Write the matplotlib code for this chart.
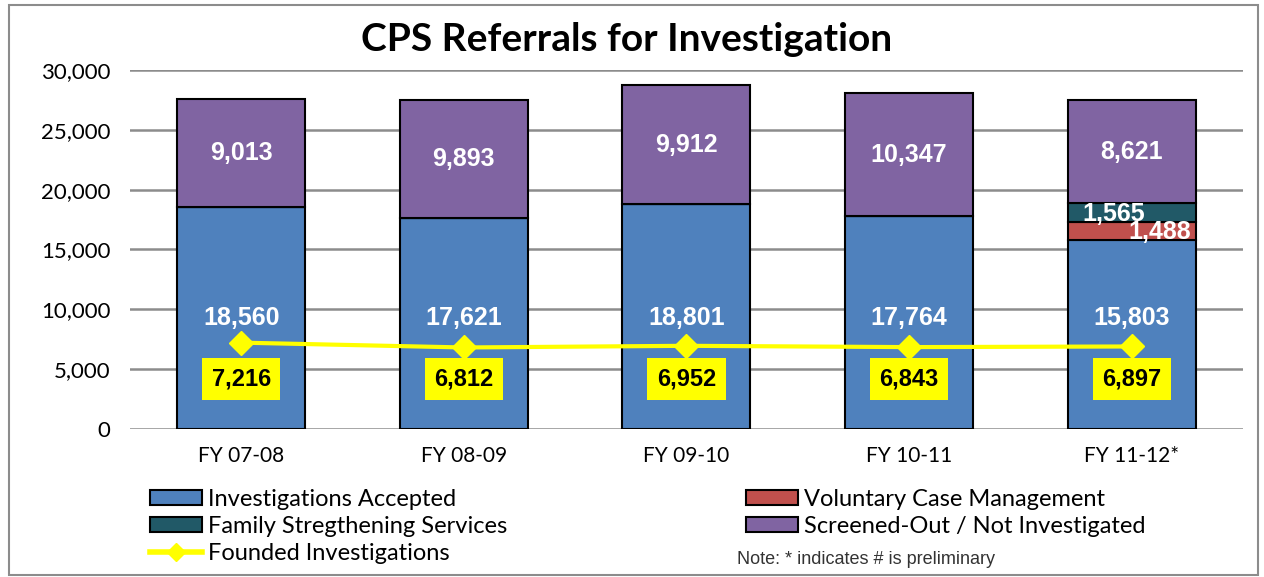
import matplotlib
matplotlib.use('Agg')
import matplotlib.pyplot as plt
from matplotlib.patches import Patch, Rectangle
from matplotlib.lines import Line2D
import numpy as np

""" Data """

years = ['FY 07-08', 'FY 08-09', 'FY 09-10', 'FY 10-11', 'FY 11-12*']
accepted = [18560, 17621, 18801, 17764, 15803]
voluntary = [0, 0, 0, 0, 1488]
family = [0, 0, 0, 0, 1565]
screened = [9013, 9893, 9912, 10347, 8621]
founded = [7216, 6812, 6952, 6843, 6897]

c_blue = '#4F81BD'
c_red = '#C0504D'
c_teal = '#215967'
c_purple = '#8064A2'
c_yellow = '#FFFF00'

""" Plot """

fig = plt.figure(figsize=(12.64, 5.77), dpi=100)
fig.patches.append(Rectangle((0.007, 0.004), 0.988, 0.988, transform=fig.transFigure,
                             fill=False, edgecolor='#8c8c8c', linewidth=1.5))
ax = fig.add_axes([0.1028, 0.2565, 0.8806, 0.6222])

x = np.arange(len(years))
w = 0.575
acc = np.array(accepted)
vol = np.array(voluntary)
fam = np.array(family)
scr = np.array(screened)

ax.bar(x, acc, w, color=c_blue, edgecolor='black', linewidth=1.5, zorder=2)
ax.bar(x, vol, w, bottom=acc, color=c_red, edgecolor='black', linewidth=1.5, zorder=2)
ax.bar(x, fam, w, bottom=acc + vol, color=c_teal, edgecolor='black', linewidth=1.5, zorder=2)
ax.bar(x, scr, w, bottom=acc + vol + fam, color=c_purple, edgecolor='black', linewidth=1.5, zorder=2)
ax.plot(x, founded, '-D', color=c_yellow, linewidth=3, markersize=12, zorder=3)

lab_font = dict(family='Liberation Sans', fontweight='bold', fontsize=18, color='white')
for i in range(len(years)):
    ax.text(x[i], 9300, '{:,}'.format(accepted[i]), ha='center', va='center', zorder=4, **lab_font)
    top = acc[i] + vol[i] + fam[i]
    ax.text(x[i], top + scr[i] / 2, '{:,}'.format(screened[i]), ha='center', va='center', zorder=4, **lab_font)
    ax.text(x[i], 4150, '{:,}'.format(founded[i]), ha='center', va='center', zorder=4,
            family='Liberation Sans', fontweight='bold', fontsize=17, color='black',
            bbox=dict(boxstyle='square,pad=0.4', facecolor=c_yellow, edgecolor='none'))
    if vol[i] > 0:
        ax.text(x[i] + w / 2 - 0.02, acc[i] + vol[i] / 2 - 100, '{:,}'.format(voluntary[i]),
                ha='right', va='center', zorder=4, **lab_font)
    if fam[i] > 0:
        ax.text(x[i] - 0.08, acc[i] + vol[i] + fam[i] / 2 - 100, '{:,}'.format(family[i]),
                ha='center', va='center', zorder=4, **lab_font)

ax.set_xlim(-0.5, len(years) - 0.5)
ax.set_ylim(0, 30000)
ax.set_yticks(np.arange(0, 30001, 5000))
ax.set_yticklabels(['{:,}'.format(v) for v in range(0, 30001, 5000)])
ax.set_xticks(x)
ax.set_xticklabels(years)
for lbl in ax.get_xticklabels():
    lbl.set_family('Lato')
    lbl.set_fontsize(15)
for lbl in ax.get_yticklabels():
    lbl.set_family('Lato')
    lbl.set_fontsize(16)
ax.tick_params(length=0, pad=14)
ax.tick_params(axis='x', pad=12)
ax.yaxis.grid(True, color='#8c8c8c', linewidth=1.8)
ax.set_axisbelow(True)
for s in ax.spines.values():
    s.set_visible(False)

fig.text(0.496, 0.932, 'CPS Referrals for Investigation', ha='center', va='center',
         family='Lato', fontweight='bold', fontsize=28)

""" Legend """

h1 = [Patch(facecolor=c_blue, edgecolor='black', linewidth=1.5),
      Patch(facecolor=c_teal, edgecolor='black', linewidth=1.5),
      Line2D([], [], color=c_yellow, linewidth=4, marker='D', markersize=9)]
n1 = ['Investigations Accepted', 'Family Stregthening Services', 'Founded Investigations']
h2 = [Patch(facecolor=c_red, edgecolor='black', linewidth=1.5),
      Patch(facecolor=c_purple, edgecolor='black', linewidth=1.5)]
n2 = ['Voluntary Case Management', 'Screened-Out / Not Investigated']
leg_kw = dict(frameon=False, prop={'family': 'Lato', 'size': 17}, handlelength=2.2,
              handleheight=0.6, handletextpad=0.25, labelspacing=0.25, borderaxespad=0, borderpad=0)
fig.legend(h1, n1, loc='upper left', bbox_to_anchor=(0.119, 0.153), **leg_kw)
fig.legend(h2, n2, loc='upper left', bbox_to_anchor=(0.590, 0.153), **leg_kw)
fig.text(0.583, 0.031, 'Note: * indicates # is preliminary', family='Liberation Sans',
         fontsize=13, color='#333333', va='center')

plt.savefig('out.png', dpi=100)
